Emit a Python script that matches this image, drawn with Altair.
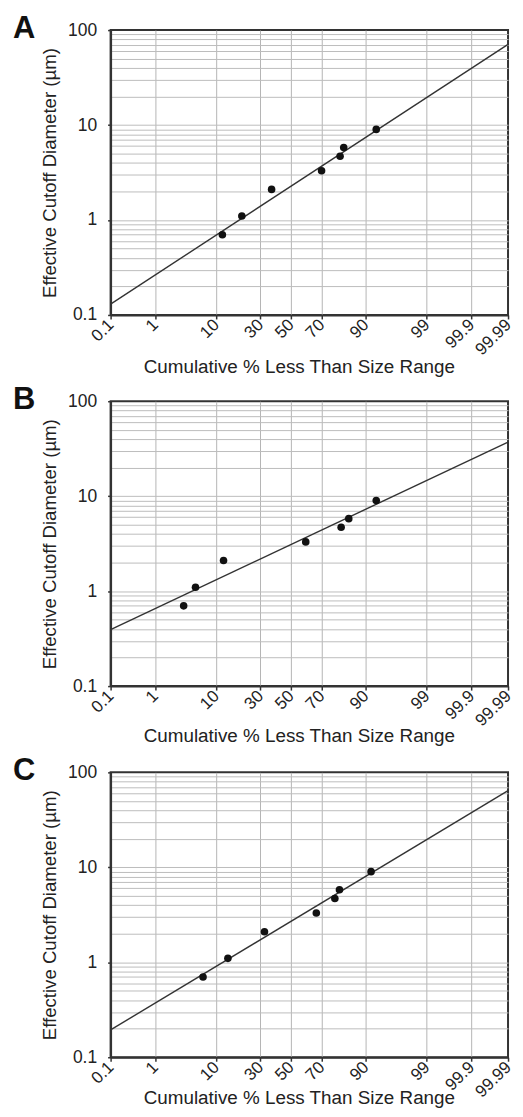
import altair as alt
import pandas as pd
from statistics import NormalDist

# ---- data ----
PCT_TICKS = [0.1, 1, 10, 30, 50, 70, 90, 99, 99.9, 99.99]
Y_MAJOR = [0.1, 1, 10, 100]
DIAM = [0.7, 1.1, 2.1, 3.3, 4.7, 5.8, 9.0]
PCT_A = [12, 20, 37, 70, 80, 81.7, 92.8]
PCT_B = [3.3, 5.1, 12.4, 60, 80.5, 83.9, 92.8]
PCT_C = [6.6, 14, 32.5, 66.8, 77.4, 79.7, 91.5]
LINE_PCT = [0.1, 99.99]
LINE_A = [0.13, 70.8]
LINE_B = [0.394, 37.1]
LINE_C = [0.194, 64.1]
LETTERS = ["A", "B", "C"]
X_TITLE = "Cumulative % Less Than Size Range"
Y_TITLE = "Effective Cutoff Diameter (µm)"

FONT = "Liberation Sans"
nd = NormalDist()
z_ticks = [nd.inv_cdf(p / 100) for p in PCT_TICKS]
zmin, zmax = z_ticks[0], z_ticks[-1]
y_grid = sorted({round(m * 10 ** e, 6) for e in (-1, 0, 1) for m in range(1, 10)} | {100})

major_test = " || ".join(f"abs(datum.value - {v}) < 1e-9" for v in Y_MAJOR)
edge_test = f"datum.value <= {zmin + 1e-6} || datum.value >= {zmax - 1e-6}"

x_scale = alt.Scale(domain=[zmin, zmax], nice=False, zero=False)
y_scale = alt.Scale(type="log", domain=[0.1, 100], nice=False)


def x_axis(title_y):
    return alt.Axis(
        values=z_ticks,
        labelExpr="format(cumulativeNormal(datum.value) * 100, '.4~r')",
        labelAngle=-45, labelAlign="right", labelBaseline="middle",
        labelPadding=3,
        labelFont=FONT, labelFontSize=17, labelColor="#222",
        labelOverlap=False, labelFlush=False,
        tickSize=4, tickColor="#333", tickWidth=1.5,
        grid=True, gridColor="#b4b4b4", gridWidth=1,
        gridOpacity={"condition": {"test": edge_test, "value": 0}, "value": 1},
        domain=True, domainColor="#333", domainWidth=2,
        title=X_TITLE, titleFont=FONT, titleFontSize=18.9, titleFontWeight="normal",
        titleColor="#222", titleX=189, titleY=title_y, titleAlign="center",
        titleBaseline="alphabetic",
    )


y_axis = alt.Axis(
    values=y_grid, format="~g",
    labelExpr=f"({major_test}) ? datum.label : ''",
    labelFont=FONT, labelFontSize=17.5, labelColor="#222", labelPadding=11,
    labelOverlap=False,
    tickSize=3, tickColor="#333", tickWidth=1.5,
    tickOpacity={"condition": {"test": major_test, "value": 1}, "value": 0},
    grid=True, gridColor="#bcbcbc", gridWidth=1,
    gridOpacity={"condition": {"test": "datum.value <= 0.1 || datum.value >= 100", "value": 0}, "value": 1},
    domain=True, domainColor="#333", domainWidth=2,
    title=Y_TITLE, titleFont=FONT, titleFontSize=18.7, titleFontWeight="normal",
    titleColor="#222", titlePadding=8,
)


def panel(letter, pcts, line_y, title_y):
    pts = pd.DataFrame({"pct": pcts, "d": DIAM})
    ln = pd.DataFrame({"pct": LINE_PCT, "d": line_y})
    lab = pd.DataFrame({"letter": [letter]})
    xa = x_axis(title_y)
    xenc = alt.X("z:Q", scale=x_scale, axis=xa)
    yenc = alt.Y("d:Q", scale=y_scale, axis=y_axis)
    fit = (
        alt.Chart(ln)
        .transform_calculate(z="quantileNormal(datum.pct / 100)")
        .mark_line(color="#333", strokeWidth=1.4)
        .encode(x=xenc, y=yenc)
    )
    dots = (
        alt.Chart(pts)
        .transform_calculate(z="quantileNormal(datum.pct / 100)")
        .mark_circle(size=58, color="#111", opacity=1)
        .encode(x=xenc, y=yenc)
    )
    tag = (
        alt.Chart(lab)
        .mark_text(align="left", baseline="alphabetic", dx=-98, dy=8,
                   font=FONT, fontSize=31, fontWeight="bold", color="#111")
        .encode(
            x=alt.XDatum(zmin, type="quantitative", scale=x_scale, axis=xa),
            y=alt.YDatum(100, type="quantitative", scale=y_scale, axis=y_axis),
            text="letter:N",
        )
    )
    return alt.layer(fit, dots, tag).properties(width=399, height=286)


chart = (
    alt.vconcat(
        panel(LETTERS[0], PCT_A, LINE_A, 58),
        panel(LETTERS[1], PCT_B, LINE_B, 56),
        panel(LETTERS[2], PCT_C, LINE_C, 46),
        spacing=86.6, bounds="flush",
    )
    .properties(padding={"left": 4, "top": 2, "right": 0, "bottom": 0}, background="white")
    .configure_view(stroke="#333", strokeWidth=2)
)

chart.save("out.html", embed_options={"renderer": "svg", "actions": False})
